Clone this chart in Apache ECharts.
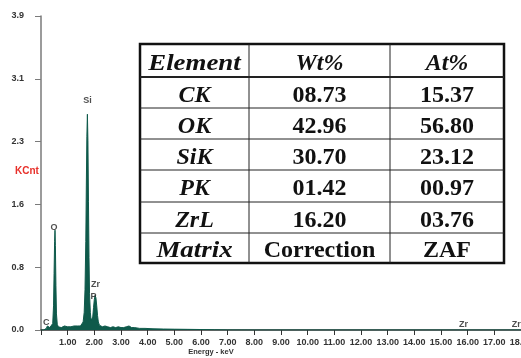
<!DOCTYPE html>
<html><head><meta charset="utf-8">
<script src="https://cdn.jsdelivr.net/npm/echarts@6/dist/echarts.min.js"></script>
<style>html,body{margin:0;padding:0;background:#fff}#c{width:521px;height:358px}</style>
</head><body><div id="c"></div>
<script>
// ---- spectrum (energy keV, KCnt) ----
const spectrumKeV = [0.00,0.10,0.16,0.20,0.24,0.27,0.30,0.33,0.36,0.40,0.44,0.47,0.49,0.51,0.525,0.54,0.56,0.58,0.61,0.65,
  0.70,0.76,0.82,0.88,0.94,1.00,1.06,1.12,1.18,1.24,1.30,1.36,1.42,1.48,1.54,1.58,1.62,1.65,1.68,1.70,
  1.72,1.74,1.76,1.78,1.80,1.82,1.85,1.88,1.91,1.94,1.97,2.00,2.03,2.06,2.09,2.12,2.15,2.19,2.24,2.30,
  2.40,2.50,2.60,2.70,2.80,2.90,3.00,3.10,3.20,3.30,3.40,3.50,3.70,3.90,4.20,4.60,5.00,5.50,6.00,6.50,
  7.00,8.00,18.0];
const spectrumKCnt = [0.00,0.00,0.01,0.02,0.05,0.07,0.06,0.03,0.02,0.03,0.08,0.30,0.70,1.10,1.24,1.05,0.55,0.20,0.07,0.04,
  0.05,0.03,0.04,0.05,0.03,0.04,0.05,0.04,0.03,0.05,0.04,0.05,0.06,0.05,0.07,0.10,0.22,0.50,1.10,1.80,
  2.40,2.68,2.35,1.60,0.90,0.45,0.22,0.12,0.10,0.16,0.28,0.38,0.43,0.40,0.30,0.18,0.10,0.06,0.05,0.04,
  0.05,0.04,0.03,0.04,0.03,0.04,0.03,0.03,0.04,0.05,0.03,0.03,0.02,0.02,0.015,0.012,0.010,0.008,0.006,0.003,
  0.001,0.0,0.0];

// ---- peak annotations ----
const peakNames = ['C','O','Si','Zr','P','Zr','Zr'];
const peakKeV   = [0.27,0.525,1.74,2.04,2.04,15.77,17.67];
const peakKCnt  = [0.07,1.24,2.68,0.43,0.43,0,0];

// ---- axis ticks ----
const yTickValues = [0,0.78,1.56,2.34,3.12,3.9];
const yTickLabels = ['0.0','0.8','1.6','2.3','3.1','3.9'];
const xTickValues = [0,1,2,3,4,5,6,7,8,9,10,11,12,13,14,15,16,17,18];
const xTickLabels = ['','1.00','2.00','3.00','4.00','5.00','6.00','7.00','8.00','9.00','10.00','11.00','12.00','13.00','14.00','15.00','16.00','17.00','18.00'];

// ---- table ----
const tableHeader = ['Element','Wt%','At%'];
const tableElements = ['CK','OK','SiK','PK','ZrL','Matrix'];
const tableWt = ['08.73','42.96','30.70','01.42','16.20','Correction'];
const tableAt = ['15.37','56.80','23.12','00.97','03.76','ZAF'];

// ---- styling (not data) ----
const peakLabelOffsets = [[-2,-2],[-1,-3],[0,-14],[0,-11],[-2,1],[2,-5],[4,-5]];
const tableCols = [140,249,390,504];
const tableRows = [44,77,108,139,170,202,233,263];
const green = '#0f5a4b';

function labelFor(values, labels, v){
  let best=0, d=1e9;
  values.forEach((t,i)=>{ if(Math.abs(t-v)<d){d=Math.abs(t-v);best=i;} });
  return d<1e-3 ? labels[best] : '';
}

const chart = echarts.init(document.getElementById('c'), null, {renderer:'canvas'});

const sans = '"Liberation Sans", Arial, sans-serif';
const serif = '"Liberation Serif", "Times New Roman", serif';
const graphics = [];
graphics.push({type:'text', x:15, y:171, z:50,
  style:{text:'KCnt', fill:'#e8302a', verticalAlign:'middle', fontSize:10, fontWeight:'bold', fontFamily:sans}});
graphics.push({type:'text', x:211, y:352, z:50,
  style:{text:'Energy - keV', fill:'#333', align:'center', verticalAlign:'middle', fontSize:7.5, fontWeight:'bold', fontFamily:sans}});

// table
const tx0 = tableCols[0], tx1 = tableCols[tableCols.length-1];
const ty0 = tableRows[0], ty1 = tableRows[tableRows.length-1];
graphics.push({type:'rect', z:100, shape:{x:tx0,y:ty0,width:tx1-tx0,height:ty1-ty0},
  style:{fill:'#fff', stroke:'#111', lineWidth:2.5}});
for(let r=1;r<tableRows.length-1;r++){
  graphics.push({type:'line', z:101, shape:{x1:tx0,y1:tableRows[r],x2:tx1,y2:tableRows[r]},
    style:{stroke:'#222', lineWidth: r===1?2:1}});
}
for(let c=1;c<tableCols.length-1;c++){
  graphics.push({type:'line', z:101, shape:{x1:tableCols[c],y1:ty0,x2:tableCols[c],y2:ty1},
    style:{stroke:'#222', lineWidth:1}});
}
function cellText(txt, c, r, italic){
  const cx = (tableCols[c]+tableCols[c+1])/2;
  const cy = (tableRows[r]+tableRows[r+1])/2 + 3;
  const wide = italic && txt.length >= 6;
  graphics.push({type:'text', z:102, x:cx, y:cy, scaleX: wide ? 1.12 : 1,
    style:{text:txt, fill:'#111', align:'center', verticalAlign:'middle',
      fontSize:24, fontWeight:'bold', fontStyle: italic?'italic':'normal', fontFamily:serif}});
}
tableHeader.forEach((h,c)=>cellText(h,c,0,true));
tableElements.forEach((e,i)=>{
  cellText(e,0,i+1,true);
  cellText(tableWt[i],1,i+1,false);
  cellText(tableAt[i],2,i+1,false);
});

const option = {
  backgroundColor:'#fff',
  animation:false,
  grid:{left:41, right:0, top:16, bottom:28, containLabel:false, outerBoundsMode:'none'},
  xAxis:{type:'value', min:0, max:18, interval:1,
    axisLine:{show:true, onZero:false, lineStyle:{color:'#333', width:1.5}},
    axisTick:{show:true, length:5, lineStyle:{color:'#333'}},
    splitLine:{show:false},
    axisLabel:{color:'#333', fontWeight:'bold', fontSize:9, margin:8, fontFamily:sans,
      showMinLabel:true, showMaxLabel:true, hideOverlap:false,
      formatter:v=>labelFor(xTickValues,xTickLabels,v)}},
  yAxis:{type:'value', min:0, max:3.9, interval:0.78,
    axisLine:{show:true, lineStyle:{color:'#7a7a7a', width:1.5}},
    axisTick:{show:true, length:6, lineStyle:{color:'#7a7a7a'}},
    splitLine:{show:false},
    axisLabel:{color:'#333', fontWeight:'bold', fontSize:9, margin:17, fontFamily:sans,
      showMaxLabel:true,
      formatter:v=>labelFor(yTickValues,yTickLabels,v)}},
  series:[
    {type:'line', data: spectrumKeV.map((e,i)=>[e, spectrumKCnt[i]]),
      showSymbol:false, symbol:'none', lineStyle:{color:green, width:1}, areaStyle:{color:green, opacity:1},
      silent:true, z:2},
    {type:'scatter', symbolSize:0, silent:true, z:5,
      data: peakNames.map((n,i)=>({value:[peakKeV[i], peakKCnt[i]], name:n,
        label:{offset:peakLabelOffsets[i]}})),
      label:{show:true, position:'inside', formatter:p=>p.name, color:'#222', fontWeight:'bold', fontSize:9,
        fontFamily:sans}}
  ],
  graphic: graphics
};
chart.setOption(option);
</script>
</body></html>
